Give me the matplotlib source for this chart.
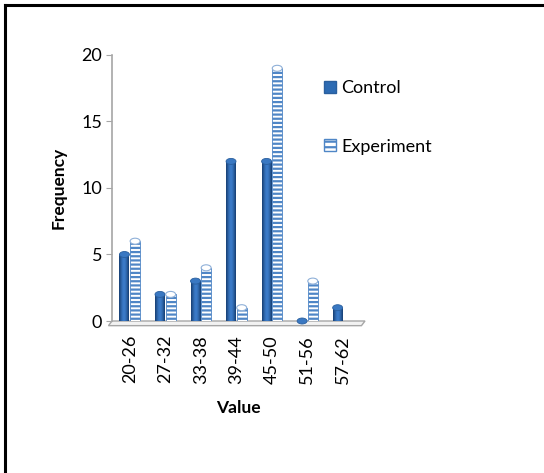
import matplotlib.pyplot as plt
import numpy as np
from matplotlib.patches import Polygon, Ellipse, Rectangle
from matplotlib.lines import Line2D
from matplotlib.colors import LinearSegmentedColormap

plt.rcParams['font.family'] = ['Lato', 'DejaVu Sans']
plt.rcParams['hatch.linewidth'] = 1.6

categories = ["20-26", "27-32", "33-38", "39-44", "45-50", "51-56", "57-62"]
control = [5, 2, 3, 12, 12, 0, 1]
experiment = [6, 2, 4, 1, 19, 3, 0]

blue = "#2d6bb3"
stripe = "#4f86c6"

fig = plt.figure(figsize=(5.44, 4.73), dpi=100)
ax = fig.add_axes([112 / 544, 1 - 321 / 473, 253 / 544, 266 / 473])

x = np.arange(len(categories))
w = 0.28
cap_h = 0.45

# shaded gradient used for the solid cylinders
grad = np.linspace(0, 1, 64)
shade = 0.55 + 0.45 * np.sin(np.pi * (0.15 + 0.7 * grad)) ** 2
grad_img = np.tile(shade, (2, 1))
cyl_cmap = LinearSegmentedColormap.from_list("cyl", ["#173f73", "#3b7bc8"])

for xi, v in zip(x - 0.15, control):
    bar = ax.bar(xi, v, width=w, color=blue, edgecolor="none", zorder=3)[0]
    if v > 0:
        im = ax.imshow(grad_img, extent=(xi - w / 2, xi + w / 2, 0, v),
                       cmap=cyl_cmap, aspect="auto", zorder=3.1)
        im.set_clip_path(bar)
    ax.add_patch(Ellipse((xi, v), w, cap_h, facecolor="#3a78c2",
                         edgecolor="#2a5f9e", lw=0.6, zorder=3.2, clip_on=False))

for xi, v in zip(x + 0.15, experiment):
    ax.bar(xi, v, width=w, color="white", edgecolor=stripe, hatch="----",
           linewidth=0.6, zorder=3)
    if v > 0:
        ax.add_patch(Ellipse((xi, v), w, cap_h, facecolor="white",
                             edgecolor="#8fb0d8", lw=0.8, zorder=3.2, clip_on=False))

# floor of the chart
floor = Polygon([(-0.5, 0.0), (-0.6, -0.35), (6.52, -0.35), (6.62, 0.0)],
                closed=True, facecolor="#f2f2f2", edgecolor="#a6a6a6",
                lw=1.0, zorder=1, clip_on=False)
ax.add_patch(floor)

ax.set_xlim(-0.5, 6.62)
ax.set_ylim(0, 20)
ax.set_yticks([0, 5, 10, 15, 20])
ax.set_xticks(x)
ax.set_xticklabels(categories, rotation=90, fontsize=13)
ax.tick_params(axis="y", labelsize=13, length=4, color="#a6a6a6", pad=3)
ax.tick_params(axis="x", length=0, pad=10)
for side in ["top", "right", "bottom"]:
    ax.spines[side].set_visible(False)
ax.spines["left"].set_color("#a6a6a6")
ax.spines["left"].set_linewidth(1.2)

ax.set_ylabel("Frequency", fontsize=12.5, fontweight="bold", labelpad=11)
ax.set_xlabel("Value", fontsize=12.5, fontweight="bold", labelpad=12)

handles = [Rectangle((0, 0), 1, 1, facecolor=blue, edgecolor="#2a5f9e"),
           Rectangle((0, 0), 1, 1, facecolor="white", edgecolor=stripe, hatch="---")]
fig.legend(handles, ["Control", "Experiment"], loc="upper left",
           bbox_to_anchor=(308 / 544, 1 - 64 / 473), frameon=False,
           fontsize=13, labelspacing=2.35, handlelength=0.65, handleheight=0.65,
           handletextpad=0.3)

# outer frame (top and left edges visible)
fig.add_artist(Line2D([5 / 544, 1.0], [1 - 5 / 473] * 2, color="black", lw=2.2,
                      transform=fig.transFigure))
fig.add_artist(Line2D([5 / 544] * 2, [0.0, 1 - 5 / 473], color="black", lw=2.2,
                      transform=fig.transFigure))

fig.savefig("out.png", dpi=100)
